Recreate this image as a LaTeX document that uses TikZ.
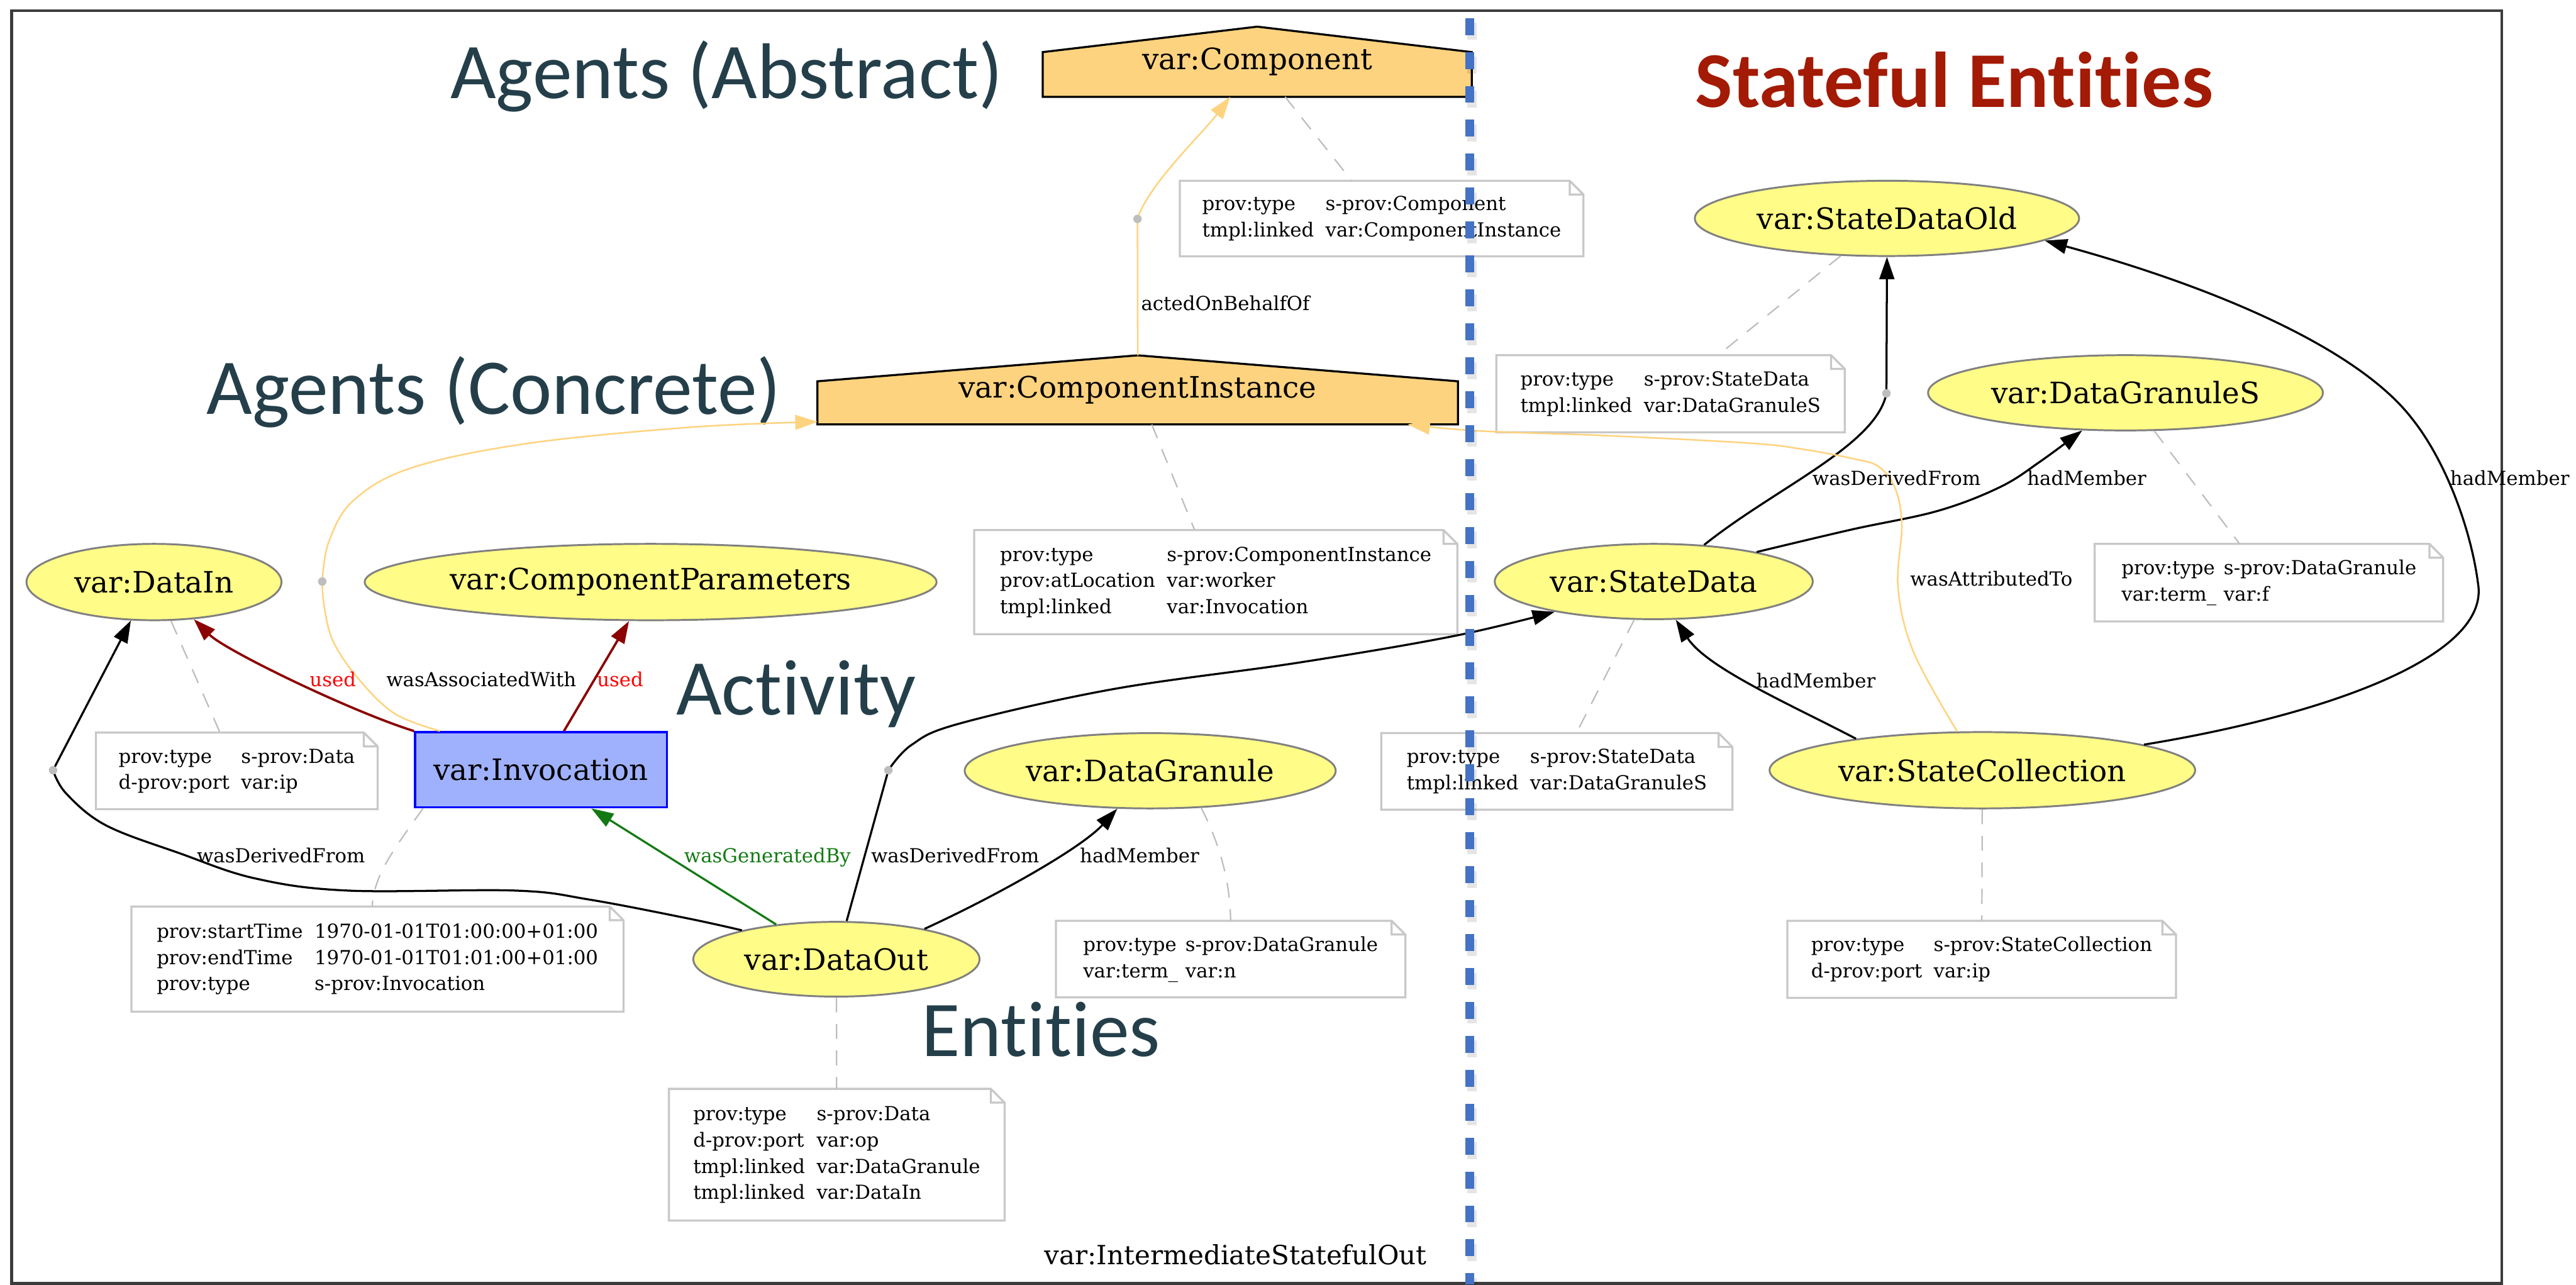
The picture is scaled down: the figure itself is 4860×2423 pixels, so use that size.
\documentclass[tikz,border=0pt]{standalone}
\usepackage{fontspec}
\setmainfont{DejaVu Serif}
\newfontfamily\titlefam[Ligatures=NoCommon]{Carlito}
\usetikzlibrary{shapes.geometric,arrows.meta,calc,backgrounds}

\definecolor{entfill}{HTML}{FFFC87}
\definecolor{entline}{HTML}{808080}
\definecolor{agfill}{HTML}{FED37F}
\definecolor{agline}{HTML}{FED37F}
\definecolor{actfill}{HTML}{9FB1FC}
\definecolor{actline}{HTML}{0000FF}
\definecolor{usedred}{HTML}{8B0000}
\definecolor{usedlbl}{HTML}{FF0000}
\definecolor{gengreen}{HTML}{137A13}
\definecolor{notegray}{HTML}{C8C8C8}
\definecolor{linkgray}{HTML}{BDBDBD}
\definecolor{hubgray}{HTML}{BEBEBE}
\definecolor{titleteal}{HTML}{243F4A}
\definecolor{statered}{HTML}{A31A05}
\definecolor{divblue}{HTML}{4472C4}
\definecolor{framegray}{HTML}{3C3C3C}

\newcommand\entfont{\fontsize{15.8}{19}\selectfont}
\newcommand\annfont{\fontsize{10.4}{14.1}\selectfont}
\newcommand\clufont{\fontsize{14.2}{17}\selectfont}
\newcommand\hdfont{\titlefam\fontsize{42.4}{50}\selectfont}
\newcommand\midtxt[1]{\makebox[0pt][c]{#1}}

\tikzset{
  entity/.style={ellipse, draw=entline, fill=entfill, line width=1pt, inner sep=0pt, font=\entfont},
  activity/.style={rectangle, draw=actline, fill=actfill, line width=1.1pt, inner sep=0pt, font=\entfont},
  agent/.style={rectangle, inner sep=0pt, font=\entfont},
  agentshape/.style={draw=black, fill=agfill, line width=1.1pt, line join=miter},
  annot/.style={rectangle, inner sep=0pt, font=\annfont, anchor=north west},
  noteline/.style={draw=notegray, line width=1.1pt},
  notelink/.style={draw=linkgray, line width=0.75pt, dash pattern=on 2.8mm off 2.2mm},
  hubdot/.style={circle, fill=hubgray, inner sep=0pt, minimum size=1.6mm},
  tip/.style={-{Triangle[length=4.2mm,width=2.8mm]}},
  rel/.style={line width=1.1pt, draw=black},
  assoc/.style={line width=0.85pt, draw=agline},
  usedrel/.style={line width=1.25pt, draw=usedred},
  genrel/.style={line width=1.1pt, draw=gengreen},
  elabel/.style={font=\annfont, anchor=base, inner sep=0pt},
  heading/.style={font=\hdfont, text=titleteal, anchor=base west, inner sep=0pt},
}

\begin{document}
\begin{tikzpicture}[x=0.1mm, y=-0.1mm]
\useasboundingbox (0,0) rectangle (4860,2423);

% outer frame
\draw[draw=framegray, line width=1.4pt] (22,20) rectangle (4720,2421);

% section headings
\node[heading] (hAbs) at (849,186) {Agents (Abstract)};
\node[heading] (hCon) at (389,781) {Agents (Concrete)};
\node[heading] (hAct) at (1275,1349) {Activity};
\node[heading] (hEnt) at (1738,1993) {Entities};
\node[heading, text=statered, font=\hdfont\bfseries] (hSta) at (3198,202) {Stateful Entities};

% agents
\node[agent, minimum width=80.8mm, minimum height=13.1mm] (comp) at (2372,116.5) {var:Component};
\node[agent, minimum width=120.7mm, minimum height=12.9mm] (ci) at (2146.5,735.5) {var:ComponentInstance};
\begin{scope}[on background layer]
  \draw[agentshape] (comp.south west) -- ($(comp.north west)+(0,48)$) -- (comp.north)
        -- ($(comp.north east)+(0,48)$) -- (comp.south east) -- cycle;
  \draw[agentshape] (ci.south west) -- ($(ci.north west)+(0,49)$) -- (ci.north)
        -- ($(ci.north east)+(0,49)$) -- (ci.south east) -- cycle;
\end{scope}

% activity
\node[activity, minimum width=47.5mm, minimum height=14.2mm] (inv) at (1020.5,1452) {var:Invocation};

% entities
\node[entity, minimum width=48.1mm, minimum height=14.4mm] (datain) at (290.5,1098) {\midtxt{var:DataIn}};
\node[entity, minimum width=107.9mm, minimum height=14.4mm] (cparams) at (1227.5,1098) {\midtxt{var:ComponentParameters}};
\node[entity, minimum width=54mm, minimum height=14.1mm] (dataout) at (1578,1809.5) {\midtxt{var:DataOut}};
\node[entity, minimum width=70mm, minimum height=14.2mm] (dgran) at (2170,1454) {\midtxt{var:DataGranule}};
\node[entity, minimum width=72.5mm, minimum height=14.2mm] (sdold) at (3560,412) {\midtxt{var:StateDataOld}};
\node[entity, minimum width=74.5mm, minimum height=14.2mm] (dgs) at (4010,741) {\midtxt{var:DataGranuleS}};
\node[entity, minimum width=60mm, minimum height=14.2mm] (sd) at (3120,1097) {\midtxt{var:StateData}};
\node[entity, minimum width=80.3mm, minimum height=14.4mm] (scoll) at (3740,1453) {\midtxt{var:StateCollection}};

% attribute notes
\node[annot, minimum width=76mm, minimum height=14.1mm] (ncomp) at (2226,341)
  {\begin{tabular}{@{}l@{\hspace{2.2mm}}l@{}}prov:type & s-prov:Component\\ tmpl:linked & var:ComponentInstance\end{tabular}};
\node[annot, minimum width=91mm, minimum height=19.5mm] (nci) at (1838,1000)
  {\begin{tabular}{@{}l@{\hspace{2.2mm}}l@{}}prov:type & s-prov:ComponentInstance\\ prov:atLocation & var:worker\\ tmpl:linked & var:Invocation\end{tabular}};
\node[annot, minimum width=53mm, minimum height=14.3mm] (ndatain) at (181,1382)
  {\begin{tabular}{@{}l@{\hspace{2.2mm}}l@{}}prov:type & s-prov:Data\\ d-prov:port & var:ip\end{tabular}};
\node[annot, minimum width=92.7mm, minimum height=19.7mm] (ninv) at (248,1710)
  {\begin{tabular}{@{}l@{\hspace{2.2mm}}l@{}}prov:startTime & 1970-01-01T01:00:00+01:00\\ prov:endTime & 1970-01-01T01:01:00+01:00\\ prov:type & s-prov:Invocation\end{tabular}};
\node[annot, minimum width=63.2mm, minimum height=24.7mm] (ndataout) at (1262,2054)
  {\begin{tabular}{@{}l@{\hspace{2.2mm}}l@{}}prov:type & s-prov:Data\\ d-prov:port & var:op\\ tmpl:linked & var:DataGranule\\ tmpl:linked & var:DataIn\end{tabular}};
\node[annot, minimum width=65.8mm, minimum height=14.3mm] (ndg) at (1992,1737)
  {\begin{tabular}{@{}l@{\hspace{1.4mm}}l@{}}prov:type & s-prov:DataGranule\\ var:term\_ & var:n\end{tabular}};
\node[annot, minimum width=65.6mm, minimum height=14.4mm] (nsdo) at (2823,670)
  {\begin{tabular}{@{}l@{\hspace{2.2mm}}l@{}}prov:type & s-prov:StateData\\ tmpl:linked & var:DataGranuleS\end{tabular}};
\node[annot, minimum width=65.6mm, minimum height=14.5mm] (ndgs) at (3952,1026)
  {\begin{tabular}{@{}l@{\hspace{1.4mm}}l@{}}prov:type & s-prov:DataGranule\\ var:term\_ & var:f\end{tabular}};
\node[annot, minimum width=66.1mm, minimum height=14.3mm] (nsd) at (2606,1383)
  {\begin{tabular}{@{}l@{\hspace{2.2mm}}l@{}}prov:type & s-prov:StateData\\ tmpl:linked & var:DataGranuleS\end{tabular}};
\node[annot, minimum width=73.2mm, minimum height=14.4mm] (nsc) at (3372,1737)
  {\begin{tabular}{@{}l@{\hspace{2.2mm}}l@{}}prov:type & s-prov:StateCollection\\ d-prov:port & var:ip\end{tabular}};

\foreach \n in {ncomp,nci,ndatain,ninv,ndataout,ndg,nsdo,ndgs,nsd,nsc}{
  \draw[noteline] (\n.north west) -- ($(\n.north east)+(-26,0)$) -- ($(\n.north east)+(0,26)$)
      -- (\n.south east) -- (\n.south west) -- cycle
      ($(\n.north east)+(-26,0)$) |- ($(\n.north east)+(0,26)$);
}

% dashed links from elements to their notes
\draw[notelink] (comp) -- (ncomp);
\draw[notelink] (ci) -- (nci);
\draw[notelink] (datain) -- (ndatain);
\draw[notelink] ($(inv.south west)+(17,0)$) .. controls (745,1600) and (705,1650) .. ($(ninv.north)+(-10,0)$);
\draw[notelink] (dataout) -- (ndataout);
\draw[notelink] (dgran.-36.7) .. controls (2305,1600) and (2321,1670) .. (ndg.north);
\draw[notelink] (sdold) -- (nsdo);
\draw[notelink] (dgs) -- (ndgs);
\draw[notelink] (sd) -- (nsd);
\draw[notelink] (scoll) -- (nsc);

% relation end points on the agent and activity shapes
\coordinate (ciAssoc) at ($(ci.south west)+(0,-5)$);
\coordinate (ciAttr) at ($(ci.south east)+(-95,0)$);
\coordinate (compAct) at ($(comp.south)+(-51,0)$);
\coordinate (invAssoc) at ($(inv.north west)+(49,0)$);
\coordinate (invUse) at ($(inv.north)+(43.5,0)$);
\coordinate (invGen) at ($(inv.south)+(95,0)$);

% hubs of qualified relations
\coordinate (hubactP) at (2146,413);
\coordinate (hubassocP) at (608,1097);
\coordinate (hubdinP) at (100,1453);
\coordinate (hubdsdP) at (1676,1453);
\coordinate (hubsdoP) at (3559,742);

% actedOnBehalfOf
\draw[assoc] (ci.north) -- (hubactP);
\draw[assoc, tip] (hubactP) .. controls (2165,350) and (2270,250) .. (compAct);
% wasAssociatedWith
\draw[assoc] plot[smooth, tension=0.6] coordinates {(invAssoc) (746,1347) (680,1285) (630,1213) (612,1147) (hubassocP)};
\draw[assoc, tip] plot[smooth, tension=0.6] coordinates {(hubassocP) (620,1023) (666,945) (775,883) (992,837) (1302,806) (ciAssoc)};
% used
\draw[usedrel, tip] (inv.north west) .. controls (662,1342) and (425,1227) .. (datain.317.2);
\draw[usedrel, tip] (invUse) -- (cparams.241.8);
% wasGeneratedBy
\draw[genrel, tip] (dataout.150.3) -- (invGen);
% wasDerivedFrom DataOut -> DataIn
\draw[rel] plot[smooth, tension=0.6] coordinates {(dataout.163.6) (1300,1733) (1112,1697) (972,1680) (656,1680) (481,1657) (340,1610) (200,1557) (125,1497) (hubdinP)};
\draw[rel, tip] (hubdinP) -- (datain.239.3);
% wasDerivedFrom DataOut -> StateData
\draw[rel] (dataout.75) -- (hubdsdP);
\draw[rel, tip] plot[smooth, tension=0.6] coordinates {(hubdsdP) (1720,1405) (1810,1365) (2100,1300) (2450,1250) (2742,1200) (sd.197.5)};
% hadMember DataOut -> DataGranule
\draw[rel, tip] (dataout.19.3) .. controls (1880,1690) and (2040,1600) .. (dgran.229.3);
% wasDerivedFrom StateData -> StateDataOld
\draw[rel] (sd.36.6) .. controls (3350,920) and (3540,840) .. (hubsdoP);
\draw[rel, tip] (hubsdoP) -- (sdold.south);
% hadMember StateData -> DataGranuleS
\draw[rel, tip] plot[smooth, tension=0.6] coordinates {(sd.16.2) (3493,999) (3655,964) (3773,919) (3850,870) (dgs.221.5)};
% hadMember StateCollection -> StateData
\draw[rel, tip] (scoll.166.2) .. controls (3380,1330) and (3220,1260) .. (sd.300);
% hadMember StateCollection -> StateDataOld
\draw[rel, tip] (scoll.9.3) .. controls (4380,1350) and (4700,1240) .. (4675,1100)
   .. controls (4662,1000) and (4615,870) .. (4550,789)
   .. controls (4450,660) and (4190,545) .. (sdold.352.8);
% wasAttributedTo
\draw[assoc, tip] plot[smooth, tension=0.6] coordinates {(scoll.123.7) (3611,1232) (3581,1110) (3588,990) (3575,920) (3544,880) (3495,865) (3398,847) (3301,836) (3035,822) (2792,813) (ciAttr)};

% hub dots
\node[hubdot] (hubact) at (hubactP) {};
\node[hubdot] (hubassoc) at (hubassocP) {};
\node[hubdot] (hubdin) at (hubdinP) {};
\node[hubdot] (hubdsd) at (hubdsdP) {};
\node[hubdot] (hubsdo) at (hubsdoP) {};

% relation labels
\node[elabel] (lAct) at (2312,586) {actedOnBehalfOf};
\node[elabel, text=usedlbl] (lUse1) at (628,1295) {used};
\node[elabel] (lAssoc) at (908,1295) {wasAssociatedWith};
\node[elabel, text=usedlbl] (lUse2) at (1170,1295) {used};
\node[elabel] (lDer1) at (530,1627) {wasDerivedFrom};
\node[elabel, text=gengreen] (lGen) at (1448,1627) {wasGeneratedBy};
\node[elabel] (lDer2) at (1802,1627) {wasDerivedFrom};
\node[elabel] (lMem1) at (2150,1627) {hadMember};
\node[elabel] (lDer3) at (3578,915) {wasDerivedFrom};
\node[elabel] (lMem2) at (3937,915) {hadMember};
\node[elabel] (lMem3) at (4735,915) {hadMember};
\node[elabel] (lMem4) at (3426,1297) {hadMember};
\node[elabel] (lAttr) at (3757,1105) {wasAttributedTo};

% cluster label
\node[font=\clufont, anchor=base, inner sep=0pt] (clu) at (2331,2385) {var:IntermediateStatefulOut};

% divider between the stateless and stateful parts
\draw[line width=1.7mm, draw=black, opacity=0.10, dash pattern=on 3.2mm off 3.2mm] (2777,43) -- (2777,2432);
\draw[line width=1.7mm, draw=divblue, dash pattern=on 3.2mm off 3.2mm] (2773,34) -- (2773,2423);
\end{tikzpicture}
\end{document}
